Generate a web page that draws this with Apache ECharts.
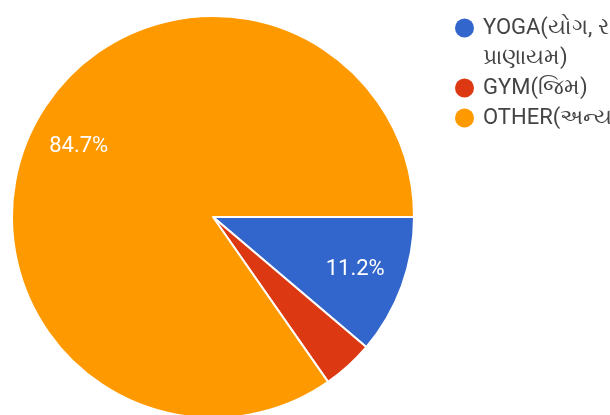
<!DOCTYPE html>
<html>
<head>
<meta charset="utf-8">
<script src="https://cdn.jsdelivr.net/npm/echarts@6/dist/echarts.min.js"></script>
<style>
  html, body { margin: 0; padding: 0; background: #ffffff; }
  #chart { width: 610px; height: 415px; }
</style>
</head>
<body>
<div id="chart"></div>
<script>
// Activity categories and their share of responses (percent)
const categories = ['YOGA(યોગ, ર\nપ્રાણાયમ)', 'GYM(જિમ)', 'OTHER(અન્ય)'];
const shares = [11.2, 4.1, 84.7];
const colors = ['#3366CC', '#DC3912', '#FF9900'];

const slices = categories.map((name, i) => ({
  name: name,
  value: shares[i],
  itemStyle: { color: colors[i] }
}));

// Slices too thin to hold a readable percentage
const minLabelShare = 5;

const LH = 30;
const dotKeys = ['d0', 'd1', 'd2'];
const rich = {
  t: { fontSize: 22, color: '#444444', fontFamily: 'Roboto, "Noto Sans", sans-serif', lineHeight: LH },
  g: { width: 9, height: 18, lineHeight: LH },
  sp: { width: 28, height: 18, lineHeight: LH }
};
dotKeys.forEach((k, i) => {
  rich[k] = { width: 19, height: 19, lineHeight: LH, borderRadius: 9.5, backgroundColor: colors[i] };
});

const chart = echarts.init(document.getElementById('chart'), null, { renderer: 'canvas' });
chart.setOption({
  backgroundColor: '#ffffff',
  animation: false,
  legend: {
    orient: 'vertical',
    left: 450,
    top: 13,
    padding: 0,
    itemGap: 0,
    itemWidth: 0,
    itemHeight: LH,
    icon: 'none',
    selectedMode: false,
    data: categories,
    formatter: function (name) {
      const i = categories.indexOf(name);
      const lines = name.split('\n');
      return lines.map((line, j) =>
        (j === 0 ? '{' + dotKeys[i] + '| }{g| }' : '{sp| }') + '{t|' + line + '}'
      ).join('\n');
    },
    textStyle: { fontSize: 22, lineHeight: LH, rich: rich }
  },
  series: [
    {
      type: 'pie',
      center: [213, 217],
      radius: 201,
      startAngle: 0,
      clockwise: true,
      label: { show: false },
      labelLine: { show: false },
      itemStyle: { borderColor: '#ffffff', borderWidth: 2 },
      emphasis: { disabled: true },
      data: slices
    },
    {
      // transparent ring that carries the percentage labels at ~3/4 radius
      type: 'pie',
      center: [213, 217],
      radius: [96, 201],
      startAngle: 0,
      clockwise: true,
      silent: true,
      legendHoverLink: false,
      itemStyle: { color: 'rgba(0,0,0,0)', borderWidth: 0 },
      emphasis: { disabled: true },
      labelLine: { show: false },
      label: {
        show: true,
        position: 'inside',
        color: '#ffffff',
        fontSize: 22,
        fontFamily: 'Roboto, "Noto Sans", sans-serif',
        formatter: function (p) {
          return p.value >= minLabelShare ? p.value.toFixed(1) + '%' : '';
        }
      },
      data: categories.map((name, i) => ({ name: name, value: shares[i] }))
    }
  ]
});
</script>
</body>
</html>
